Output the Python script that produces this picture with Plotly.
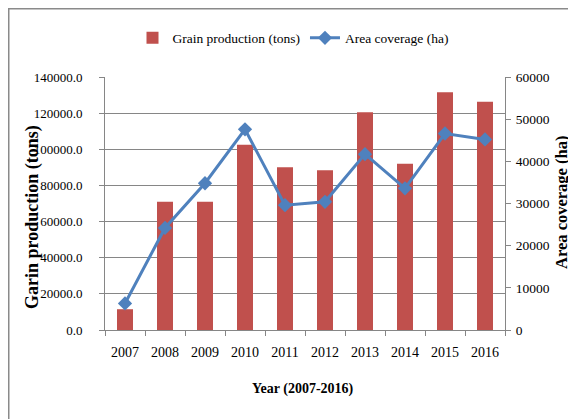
import plotly.graph_objects as go

years = ["2007", "2008", "2009", "2010", "2011", "2012", "2013", "2014", "2015", "2016"]
grain_production = [11500, 71000, 71000, 102500, 90000, 88400, 120500, 92000, 131500, 126300]
area_coverage = [6300, 24200, 34800, 47600, 29600, 30400, 41700, 33600, 46600, 45200]

left_ticks = [0, 20000, 40000, 60000, 80000, 100000, 120000, 140000]
left_ticktext = [f"{v}.0" for v in left_ticks]
right_ticks = [0, 10000, 20000, 30000, 40000, 50000, 60000]
right_ticktext = [str(v) for v in right_ticks]

FONT = "Liberation Serif"
AXIS_GRAY = "#868686"

# page body has an 8px margin: figure occupies window x 8..576, y 8..419
fig = go.Figure()
fig.add_trace(go.Bar(
    x=years, y=grain_production, name="Grain production (tons)",
    marker=dict(color="#C0504D", line=dict(width=0)), width=0.4,
))
fig.add_trace(go.Scatter(
    x=years, y=area_coverage, name="Area coverage (ha)", yaxis="y2",
    mode="lines+markers",
    line=dict(color="#4F81BD", width=3),
    marker=dict(symbol="diamond", size=11, color="#4F81BD"),
))

fig.update_layout(
    width=568, height=411,
    margin=dict(l=97, r=71, t=69, b=89),
    paper_bgcolor="white", plot_bgcolor="white",
    font=dict(family=FONT, size=13, color="#000000"),
    showlegend=True,
    legend=dict(orientation="h", x=(293 - 105) / 400, xanchor="center",
                y=(330 - 38) / 253, yanchor="middle",
                font=dict(family=FONT, size=13.5), bgcolor="rgba(0,0,0,0)",
                itemwidth=30, tracegroupgap=0),
    xaxis=dict(
        type="category", showgrid=False, showline=True, linecolor=AXIS_GRAY, linewidth=1,
        ticks="outside", tickson="boundaries", ticklen=5, tickcolor=AXIS_GRAY,
        tickfont=dict(family=FONT, size=14), ticklabelstandoff=9,
        range=[-0.5, 9.5],
    ),
    yaxis=dict(
        range=[0, 140000], tickvals=left_ticks, ticktext=left_ticktext,
        showgrid=True, gridcolor=AXIS_GRAY, gridwidth=1,
        showline=True, linecolor=AXIS_GRAY, linewidth=1,
        ticks="outside", ticklen=5, tickcolor=AXIS_GRAY,
        tickfont=dict(family=FONT, size=13), ticklabelstandoff=14,
        zeroline=False,
    ),
    yaxis2=dict(
        range=[0, 60000], tickvals=right_ticks, ticktext=right_ticktext,
        overlaying="y", side="right",
        showgrid=False, showline=True, linecolor=AXIS_GRAY, linewidth=1,
        ticks="outside", ticklen=5, tickcolor=AXIS_GRAY,
        tickfont=dict(family=FONT, size=13.5), ticklabelstandoff=2,
        zeroline=False,
    ),
    annotations=[
        dict(text="<b>Garin production (tons)</b>", xref="paper", yref="paper",
             x=(32 - 105) / 400, y=(330 - 217) / 253, textangle=-90, showarrow=False,
             xanchor="center", yanchor="middle", font=dict(family=FONT, size=18)),
        dict(text="<b>Area coverage (ha)</b>", xref="paper", yref="paper",
             x=(561 - 105) / 400, y=(330 - 203) / 253, textangle=-90, showarrow=False,
             xanchor="center", yanchor="middle", font=dict(family=FONT, size=16.5)),
        dict(text="<b>Year (2007-2016)</b>", xref="paper", yref="paper",
             x=(303 - 105) / 400, y=(330 - 389) / 253, showarrow=False,
             xanchor="center", yanchor="middle", font=dict(family=FONT, size=14)),
    ],
    shapes=[
        dict(type="line", xref="paper", yref="paper",
             x0=(8 - 105) / 400, x1=(576 - 105) / 400, y0=(330 - 8) / 253, y1=(330 - 8) / 253,
             line=dict(color="#8a8a8a", width=3)),
        dict(type="line", xref="paper", yref="paper",
             x0=(8 - 105) / 400, x1=(8 - 105) / 400, y0=(330 - 8) / 253, y1=(330 - 419) / 253,
             line=dict(color="#8a8a8a", width=3)),
    ],
)

fig.write_html("out.html")
